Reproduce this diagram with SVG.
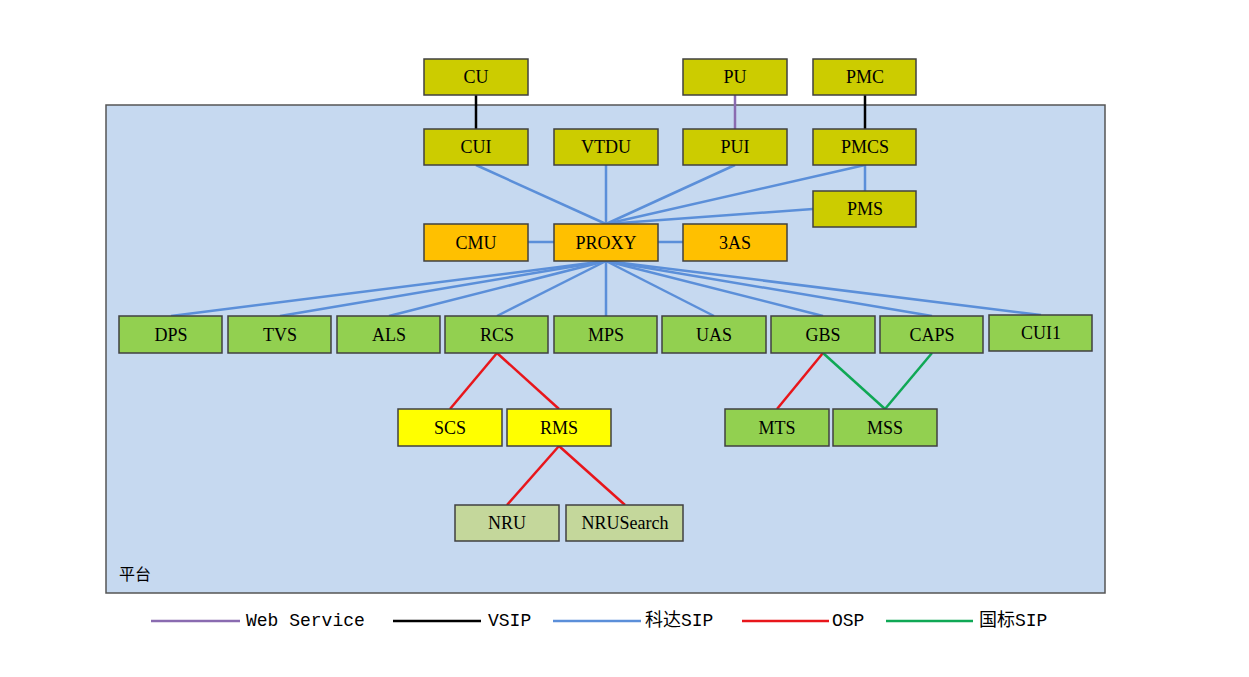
<svg xmlns="http://www.w3.org/2000/svg" width="1249" height="677" viewBox="0 0 1249 677">
<style>
.n rect{stroke:#404040;stroke-width:1.5}
.t{font-family:"Liberation Serif","Noto Sans CJK SC",serif;font-size:18px;fill:#000;text-anchor:middle;dominant-baseline:central}
.ol rect{fill:#CCCC00}
.or rect{fill:#FFC000}
.gr rect{fill:#92D050}
.ye rect{fill:#FFFF00}
.pg rect{fill:#C4D79B}
.l{stroke-width:2.5;fill:none}
.kd{stroke:#5B8FD9}
.osp{stroke:#E8161B}
.gb{stroke:#0FA855}
.vs{stroke:#000}
.ws{stroke:#8A6BB0}
.lg{font-family:"Liberation Mono","Noto Sans CJK SC",monospace;font-size:18px;fill:#000;dominant-baseline:central}
</style>
<rect width="1249" height="677" fill="#fff"/>
<g id="platform">
<rect x="106" y="105" width="999" height="488" fill="#C6D9F0" stroke="#555" stroke-width="1.5"/>
<text x="119" y="573" class="lg" style="font-family:'Noto Sans CJK SC',sans-serif;font-size:16px">平台</text>
</g>
<g id="connectors">
<line class="l vs" x1="476" y1="95" x2="476" y2="129"/>
<line class="l ws" x1="735" y1="95" x2="735" y2="129"/>
<line class="l vs" x1="865" y1="95" x2="865" y2="129"/>
<line class="l kd" x1="606" y1="224" x2="476" y2="165"/>
<line class="l kd" x1="606" y1="224" x2="606" y2="165"/>
<line class="l kd" x1="606" y1="224" x2="735" y2="165"/>
<line class="l kd" x1="606" y1="224" x2="865" y2="165"/>
<line class="l kd" x1="606" y1="224" x2="813" y2="209"/>
<line class="l kd" x1="865" y1="165" x2="865" y2="191"/>
<line class="l kd" x1="528" y1="242" x2="554" y2="242"/>
<line class="l kd" x1="658" y1="242" x2="683" y2="242"/>
<line class="l kd" x1="606" y1="261" x2="171" y2="316"/>
<line class="l kd" x1="606" y1="261" x2="280" y2="316"/>
<line class="l kd" x1="606" y1="261" x2="389" y2="316"/>
<line class="l kd" x1="606" y1="261" x2="497" y2="316"/>
<line class="l kd" x1="606" y1="261" x2="606" y2="316"/>
<line class="l kd" x1="606" y1="261" x2="714" y2="316"/>
<line class="l kd" x1="606" y1="261" x2="823" y2="316"/>
<line class="l kd" x1="606" y1="261" x2="932" y2="316"/>
<line class="l kd" x1="606" y1="261" x2="1041" y2="315"/>
<line class="l osp" x1="497" y1="353" x2="450" y2="409"/>
<line class="l osp" x1="497" y1="353" x2="559" y2="409"/>
<line class="l osp" x1="559" y1="446" x2="507" y2="505"/>
<line class="l osp" x1="559" y1="446" x2="625" y2="505"/>
<line class="l osp" x1="823" y1="353" x2="777" y2="409"/>
<line class="l gb" x1="823" y1="353" x2="885" y2="409"/>
<line class="l gb" x1="932" y1="353" x2="885" y2="409"/>
</g>
<g id="CU" class="n ol"><rect x="424" y="59" width="104" height="36"/><text class="t" x="476" y="77">CU</text></g>
<g id="PU" class="n ol"><rect x="683" y="59" width="104" height="36"/><text class="t" x="735" y="77">PU</text></g>
<g id="PMC" class="n ol"><rect x="813" y="59" width="103" height="36"/><text class="t" x="865" y="77">PMC</text></g>
<g id="CUI" class="n ol"><rect x="424" y="129" width="104" height="36"/><text class="t" x="476" y="147">CUI</text></g>
<g id="VTDU" class="n ol"><rect x="554" y="129" width="104" height="36"/><text class="t" x="606" y="147">VTDU</text></g>
<g id="PUI" class="n ol"><rect x="683" y="129" width="104" height="36"/><text class="t" x="735" y="147">PUI</text></g>
<g id="PMCS" class="n ol"><rect x="813" y="129" width="103" height="36"/><text class="t" x="865" y="147">PMCS</text></g>
<g id="PMS" class="n ol"><rect x="813" y="191" width="103" height="36"/><text class="t" x="865" y="209">PMS</text></g>
<g id="CMU" class="n or"><rect x="424" y="224" width="104" height="37"/><text class="t" x="476" y="243">CMU</text></g>
<g id="PROXY" class="n or"><rect x="554" y="224" width="104" height="37"/><text class="t" x="606" y="243">PROXY</text></g>
<g id="AS3" class="n or"><rect x="683" y="224" width="104" height="37"/><text class="t" x="735" y="243">3AS</text></g>
<g id="DPS" class="n gr"><rect x="119" y="316" width="103" height="37"/><text class="t" x="171" y="335">DPS</text></g>
<g id="TVS" class="n gr"><rect x="228" y="316" width="103" height="37"/><text class="t" x="280" y="335">TVS</text></g>
<g id="ALS" class="n gr"><rect x="337" y="316" width="103" height="37"/><text class="t" x="389" y="335">ALS</text></g>
<g id="RCS" class="n gr"><rect x="445" y="316" width="103" height="37"/><text class="t" x="497" y="335">RCS</text></g>
<g id="MPS" class="n gr"><rect x="554" y="316" width="103" height="37"/><text class="t" x="606" y="335">MPS</text></g>
<g id="UAS" class="n gr"><rect x="662" y="316" width="104" height="37"/><text class="t" x="714" y="335">UAS</text></g>
<g id="GBS" class="n gr"><rect x="771" y="316" width="104" height="37"/><text class="t" x="823" y="335">GBS</text></g>
<g id="CAPS" class="n gr"><rect x="880" y="316" width="103" height="37"/><text class="t" x="932" y="335">CAPS</text></g>
<g id="CUI1" class="n gr"><rect x="989" y="315" width="103" height="36"/><text class="t" x="1041" y="333">CUI1</text></g>
<g id="SCS" class="n ye"><rect x="398" y="409" width="104" height="37"/><text class="t" x="450" y="428">SCS</text></g>
<g id="RMS" class="n ye"><rect x="507" y="409" width="104" height="37"/><text class="t" x="559" y="428">RMS</text></g>
<g id="MTS" class="n gr"><rect x="725" y="409" width="104" height="37"/><text class="t" x="777" y="428">MTS</text></g>
<g id="MSS" class="n gr"><rect x="833" y="409" width="104" height="37"/><text class="t" x="885" y="428">MSS</text></g>
<g id="NRU" class="n pg"><rect x="455" y="505" width="104" height="36"/><text class="t" x="507" y="523">NRU</text></g>
<g id="NRUSearch" class="n pg"><rect x="566" y="505" width="117" height="36"/><text class="t" x="625" y="523">NRUSearch</text></g>
<g id="legend">
<line class="l ws" x1="151" y1="621" x2="240" y2="621"/>
<text class="lg" x="246" y="621">Web Service</text>
<line class="l vs" x1="393" y1="621" x2="481" y2="621"/>
<text class="lg" x="488" y="621">VSIP</text>
<line class="l kd" x1="553" y1="621" x2="641" y2="621"/>
<text class="lg" x="645" y="621">科达SIP</text>
<line class="l osp" x1="742" y1="621" x2="829" y2="621"/>
<text class="lg" x="832" y="621">OSP</text>
<line class="l gb" x1="886" y1="621" x2="973" y2="621"/>
<text class="lg" x="979" y="621">国标SIP</text>
</g>
</svg>
